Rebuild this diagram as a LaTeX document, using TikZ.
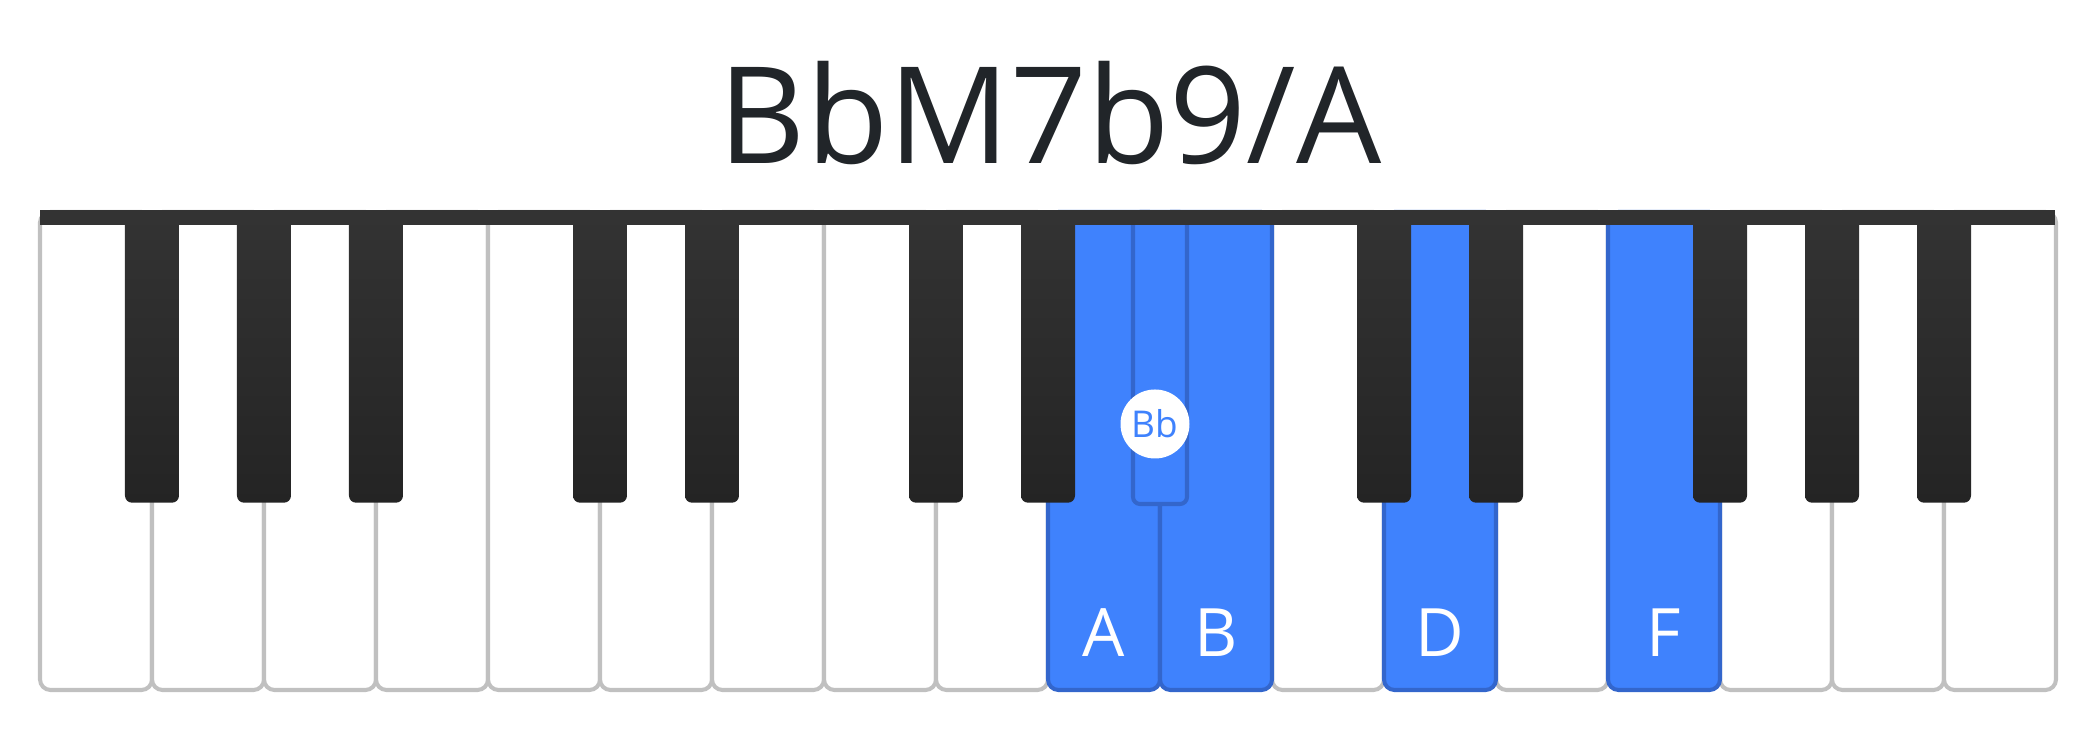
\documentclass[tikz,border=0pt]{standalone}
\usepackage{fontspec}
\setmainfont{Open Sans}
\usepackage{xcolor}

\definecolor{keyblue}{HTML}{3F82FD}
\definecolor{keyedge}{HTML}{3366CC}
\definecolor{keygray}{HTML}{C0C0C0}
\definecolor{ebonytop}{HTML}{333333}
\definecolor{ebonybot}{HTML}{242424}
\definecolor{titleink}{HTML}{212529}

\begin{document}
\begin{tikzpicture}[
  wkey/.style={
    draw=keygray, line width=1.15pt, fill=white, rectangle,
    rounded corners=3pt, minimum width=1.12cm, minimum height=4.78cm,
    anchor=north, inner sep=0pt
  },
  wsel/.style={wkey, draw=keyedge, fill=keyblue},
  bkey/.style={
    rectangle, rounded corners=2pt, minimum width=0.54cm,
    minimum height=2.92cm, anchor=north, inner sep=0pt,
    top color=ebonytop, bottom color=ebonybot
  },
  bsel/.style={
    rectangle, rounded corners=2pt, minimum width=0.54cm,
    minimum height=2.92cm, anchor=north, inner sep=0pt,
    draw=keyedge, line width=1.15pt, fill=keyblue
  },
  bar/.style={
    rectangle, fill=ebonytop, minimum width=20.15cm,
    minimum height=0.15cm, inner sep=0pt
  },
  note/.style={font=\fontsize{19}{19}\selectfont, text=white, anchor=base},
  dot/.style={
    circle, fill=white, minimum size=0.69cm, inner sep=0pt,
    font=\fontsize{10.5}{10.5}\selectfont, text=keyblue
  },
  title/.style={font=\fontsize{38.3}{38.3}\selectfont, text=titleink, anchor=base},
]
\useasboundingbox (0,0) rectangle (21,7.4);

% white keys
\foreach \i in {1,...,9,12,14,16,17,18}
  \node[wkey] (w\i) at ({0.96+1.12*(\i-1)}, 5.30) {};
\node[wsel] (w10) at (11.04, 5.30) {};
\node[wsel] (w11) at (12.16, 5.30) {};
\node[wsel] (w13) at (14.40, 5.30) {};
\node[wsel] (w15) at (16.64, 5.30) {};

% black keys
\foreach \j in {1,2,3,5,6,8,9,12,13,15,16,17}
  \node[bkey] (b\j) at ({0.40+1.12*\j}, 5.30) {};
\node[bsel] (b10) at (11.60, 5.30) {};

\node[bar] (rail) at (10.475, 5.225) {};

% labels
\node[note] (la) at (w10.south |- 0,0.83) {A};
\node[note] (lb) at (w11.south |- 0,0.83) {B};
\node[note] (ld) at (w13.south |- 0,0.83) {D};
\node[note] (lf) at (w15.south |- 0,0.83) {F};
\node[dot] (bb) at (11.55, 3.16) {Bb};

\node[title] (chord) at (10.50, 5.76) {BbM7b9/A};

\end{tikzpicture}
\end{document}
